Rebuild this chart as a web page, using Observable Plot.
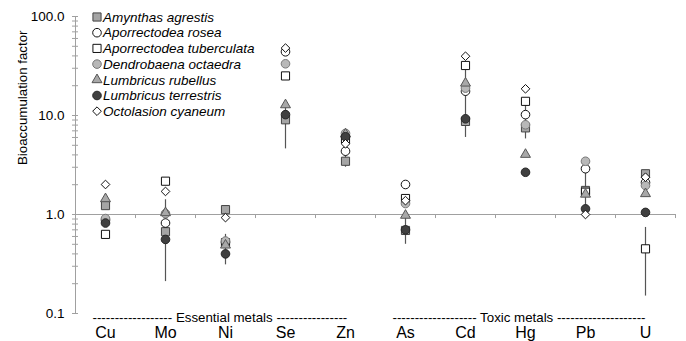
<!DOCTYPE html>
<html><head><meta charset="utf-8">
<script src="https://cdn.jsdelivr.net/npm/d3@7"></script>
<script src="https://cdn.jsdelivr.net/npm/@observablehq/plot@0.6"></script>
<style>
body{margin:0;background:#fff}
#chart{position:relative;width:686px;height:341px}
</style>
</head><body><div id="chart"></div>
<script>
// ---- data ----
const metals = ["Cu","Mo","Ni","Se","Zn","As","Cd","Hg","Pb","U"];
const speciesNames = ["Amynthas agrestis","Aporrectodea rosea","Aporrectodea tuberculata","Dendrobaena octaedra","Lumbricus rubellus","Lumbricus terrestris","Octolasion cyaneum"];
const amynthasAgrestis       = [1.23, 0.67, 1.12, 9.05, 3.45, 0.69, 8.71, 7.5, 1.75, 2.58];
const aporrectodeaRosea      = [0.88, 0.82, 0.525, 44, 4.36, 2.01, 17.6, 10.2, 2.9, 2.1];
const aporrectodeaTuberculata= [0.63, 2.17, 0.52, 25.1, 5.8, 1.45, 32.0, 13.9, 1.68, 0.45];
const dendrobaenaOctaedra    = [0.91, 1.02, 0.54, 33.3, 6.6, 1.29, 18.9, 8.06, 3.45, 1.96];
const lumbricusRubellus      = [1.44, 1.04, 0.49, 12.8, 6.5, 0.98, 21.2, 4.04, 1.6, 1.62];
const lumbricusTerrestris    = [0.82, 0.56, 0.40, 10.2, 6.1, 0.70, 9.26, 2.67, 1.14, 1.05];
const octolasionCyaneum      = [2.01, 1.71, 0.93, 48, 5.18, 1.38, 39.7, 18.6, 1.0, 2.38];
const errLow  = [0.57, 0.21, 0.31, 4.6, 3.0, 0.5, 6.0, 5.8, 1.15, 0.15];
const errHigh = [0.66, 1.41, 0.63, 12, 4.0, 1.0, 28.5, 13, 2.9, 0.74];
const yTickValues = [0.1, 1, 10, 100];
const groupLabels = ["------------------ Essential metals ----------------", "------------------- Toxic metals --------------------"];
const groupStart = ["Cu", "As"];

// ---- styles ----
const seriesValues = [amynthasAgrestis, aporrectodeaRosea, aporrectodeaTuberculata, dendrobaenaOctaedra, lumbricusRubellus, lumbricusTerrestris, octolasionCyaneum];
const styles = [
  {symbol: "square",   d3s: d3.symbolSquare,   r: 4.6, fill: "#a5a5a5", stroke: "#444"},
  {symbol: "circle",   d3s: d3.symbolCircle,   r: 4.3, fill: "#fff",    stroke: "#111"},
  {symbol: "square",   d3s: d3.symbolSquare,   r: 4.6, fill: "#fff",    stroke: "#111"},
  {symbol: "circle",   d3s: d3.symbolCircle,   r: 4.3, fill: "#b8b8b8", stroke: "#777"},
  {symbol: "triangle", d3s: d3.symbolTriangle, r: 3.7, fill: "#a8a8a8", stroke: "#555"},
  {symbol: "circle",   d3s: d3.symbolCircle,   r: 4.3, fill: "#404040", stroke: "#262626"},
  {symbol: "diamond2", d3s: d3.symbolDiamond2, r: 3.9, fill: "#fff",    stroke: "#111"}
];

const allTicks = [];
for (const base of [0.1, 1, 10]) for (let k = 1; k <= 9; k++) allTicks.push(+(base * k).toPrecision(3));
allTicks.push(100);

const dotMarks = seriesValues.map((vals, i) => Plot.dot(metals.map((m, j) => ({metal: m, value: vals[j]})), {
  x: "metal", y: "value", symbol: styles[i].symbol, r: styles[i].r,
  fill: styles[i].fill, stroke: styles[i].stroke, strokeWidth: 1
}));

const chart = Plot.plot({
  width: 686, height: 341,
  marginLeft: 75, marginRight: 11, marginTop: 16, marginBottom: 28,
  style: {fontFamily: "'Liberation Sans', Arial, sans-serif", fontSize: "13.3px", color: "#000", background: "#fff"},
  x: {type: "band", domain: metals, padding: 0},
  y: {type: "log", domain: [0.1, 100]},
  marks: [
    Plot.frame({anchor: "left", stroke: "#a0a0a0"}),
    Plot.axisY({ticks: allTicks, tickSize: 6, dx: 3, tickFormat: () => "", stroke: "#a0a0a0", label: null}),
    Plot.axisY({ticks: yTickValues, tickSize: 0, tickPadding: 11, tickFormat: d => d.toFixed(1), fontSize: 13.5, label: null}),
    Plot.text(["Bioaccumulation factor"], {frameAnchor: "left", rotate: -90, dx: -53, fontSize: 13.3}),
    Plot.ruleY([1], {stroke: "#a0a0a0"}),
    Plot.ruleX(metals, {x: d => d, y1: 1, y2: 0.91, dx: 30, stroke: "#a0a0a0"}),
    Plot.axisX({tickSize: 0, tickPadding: 13, fontSize: 16, label: null}),
    Plot.text(groupLabels, {x: (d, i) => groupStart[i], y: 0.1, text: d => d, textAnchor: "start", dx: -13, dy: 4, fontSize: 13.3}),
    Plot.ruleX(metals, {x: metals, y1: errLow, y2: errHigh, stroke: "#555", strokeWidth: 1.2}),
    ...dotMarks
  ]
});
document.getElementById("chart").appendChild(chart);

// legend (inside svg, top-left)
const svg = d3.select(chart);
const lg = svg.append("g").attr("font-style", "italic").attr("font-size", 13.5).attr("text-anchor", "start");
speciesNames.forEach((name, i) => {
  const s = styles[i];
  const y = 17 + i * 15.7;
  lg.append("path").attr("transform", `translate(97,${y})`)
    .attr("d", d3.symbol(s.d3s, Math.PI * s.r * s.r)())
    .attr("fill", s.fill).attr("stroke", s.stroke);
  lg.append("text").attr("x", 103).attr("y", y).attr("dy", "0.35em").attr("text-anchor", "start").text(name);
});
</script>
</body></html>
